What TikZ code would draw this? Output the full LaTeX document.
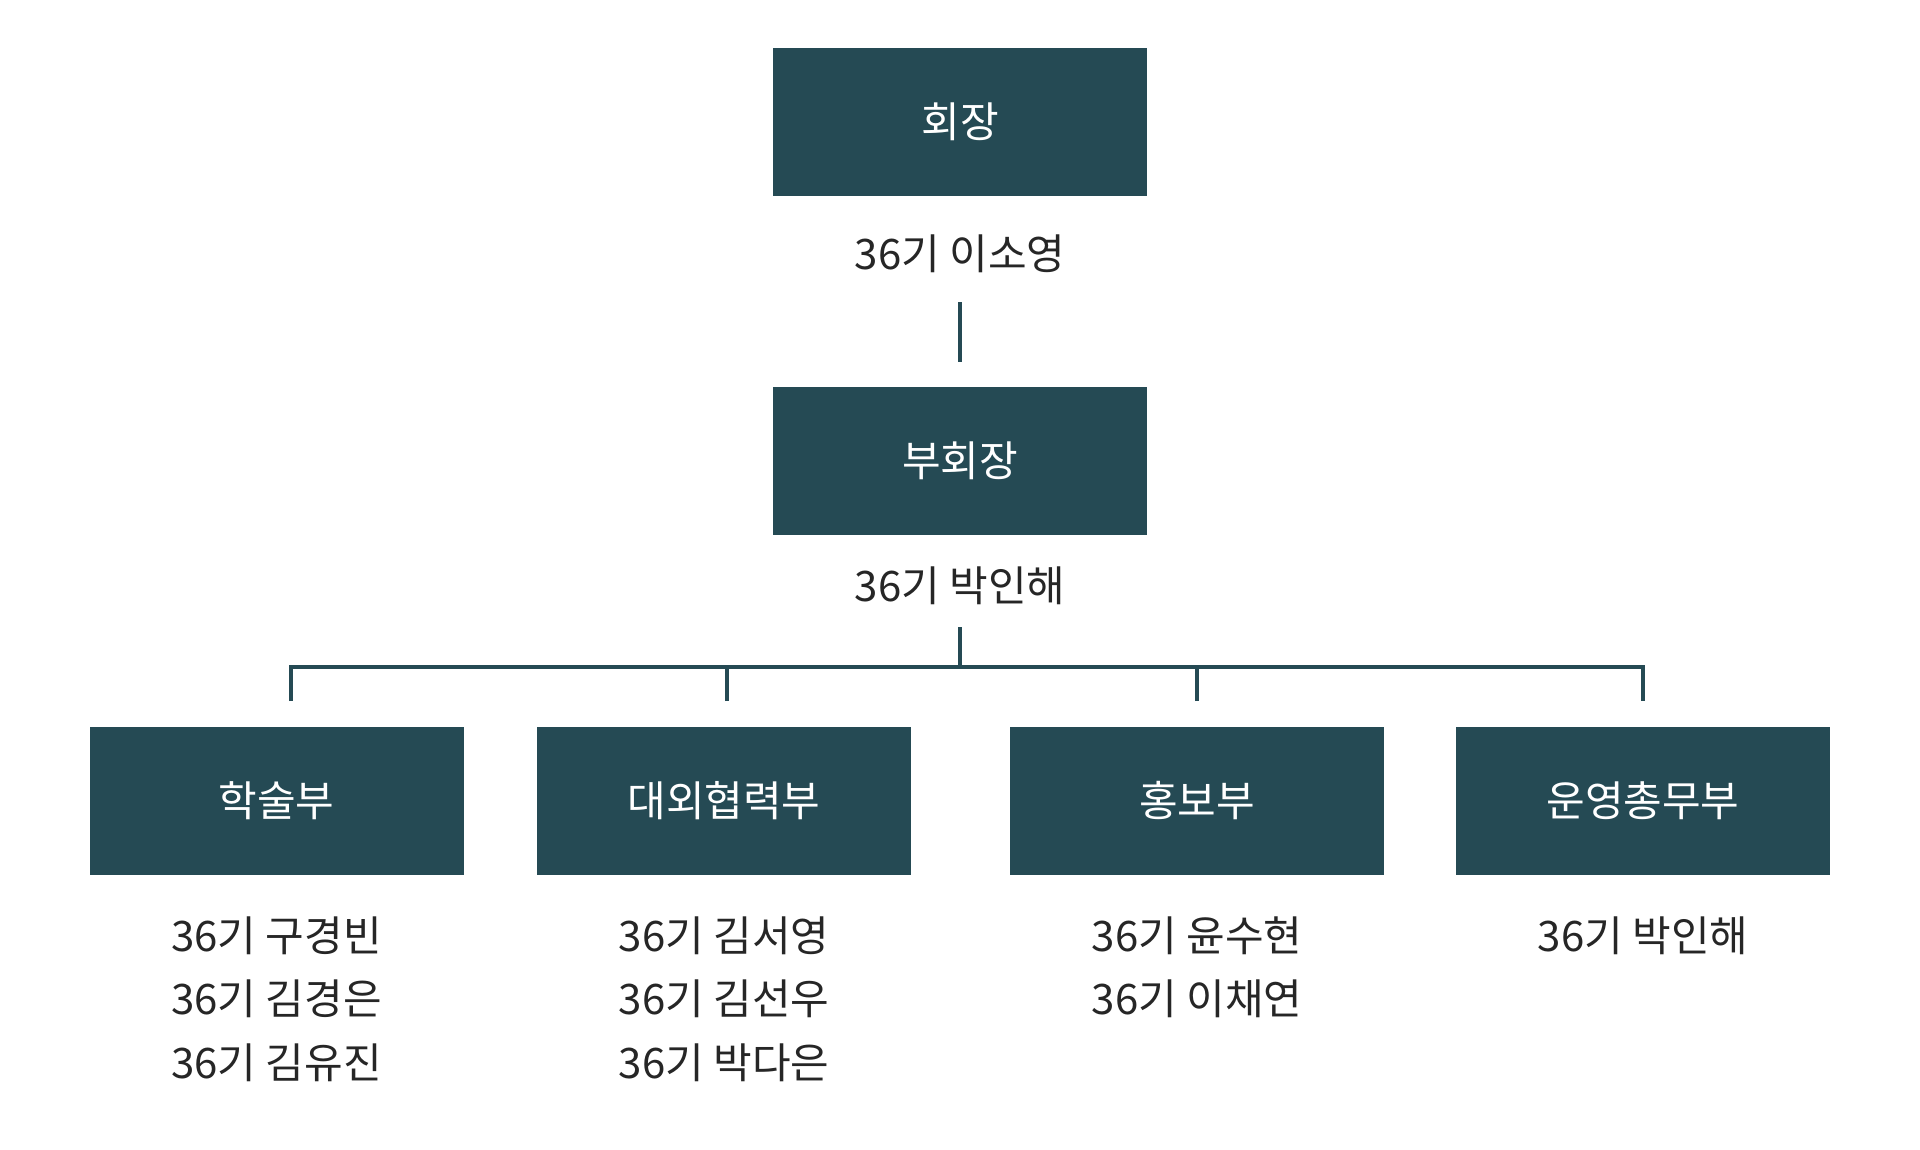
\documentclass[tikz,border=0pt]{standalone}
\usepackage{fontspec}
\setmainfont{Noto Sans CJK KR}
\definecolor{teal}{HTML}{254A54}
\definecolor{ink}{HTML}{262626}
\tikzset{
  unitbox/.style={fill=teal, draw=none, minimum width=374pt, minimum height=148pt, inner sep=0pt,
    text=white, font=\fontsize{42}{42}\selectfont},
  person/.style={anchor=base, inner sep=0pt, text=ink, font=\fontsize{42}{42}\selectfont},
  link/.style={draw=teal, line width=4.5pt, line join=miter}
}
\begin{document}
\begin{tikzpicture}[x=1pt,y=-1pt]
\useasboundingbox (0,0) rectangle (1920,1149);
% boxes
\node[unitbox] (pres) at (960,122) {회장};
\node[unitbox] (vice) at (960,461) {부회장};
\node[unitbox] (acad) at (276.5,801) {학술부};
\node[unitbox] (ext) at (724,801) {대외협력부};
\node[unitbox] (pr) at (1197,801) {홍보부};
\node[unitbox] (ops) at (1643,801) {운영총무부};
% names
\node[person] (presn) at (960,269) {36기 이소영};
\node[person] (vicen) at (960,601) {36기 박인해};
\node[person] (a1) at (276.5,951) {36기 구경빈};
\node[person] (a2) at (276.5,1014) {36기 김경은};
\node[person] (a3) at (276.5,1078) {36기 김유진};
\node[person] (e1) at (724,951) {36기 김서영};
\node[person] (e2) at (724,1014) {36기 김선우};
\node[person] (e3) at (724,1078) {36기 박다은};
\node[person] (p1) at (1197,951) {36기 윤수현};
\node[person] (p2) at (1197,1014) {36기 이채연};
\node[person] (o1) at (1643,951) {36기 박인해};
% connector end points
\coordinate (ta) at (960,302);
\coordinate (tb) at (960,362);
\coordinate (ma) at (960,627);
\coordinate (mb) at (960,667);
\coordinate (d1) at (291,701);
\coordinate (d2) at (727,701);
\coordinate (d3) at (1197,701);
\coordinate (d4) at (1643,701);
\draw[link] (ta) -- (tb);
\draw[link] (ma) -- (mb);
\draw[link] (d1) |- (mb) -| (d4);
\draw[link] (d2) -- (d2 |- mb);
\draw[link] (d3) -- (d3 |- mb);
\end{tikzpicture}
\end{document}
